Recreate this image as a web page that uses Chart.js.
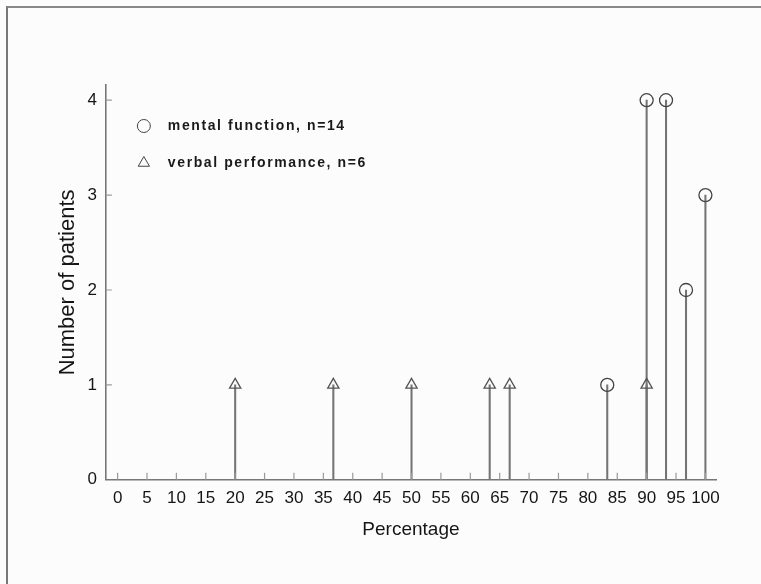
<!DOCTYPE html>
<html>
<head>
<meta charset="utf-8">
<script src="https://cdn.jsdelivr.net/npm/chart.js@4/dist/chart.umd.min.js"></script>
<style>
body { margin: 0; background: #fcfcfc; }
#frame { position: absolute; left: 6px; top: 6px; width: 800px; height: 640px; border-left: 2px solid #777; border-top: 2px solid #888; }
#graph { position: absolute; left: 0; top: 0; }
</style>
</head>
<body>
<div id="frame"></div>
<canvas id="graph" width="761" height="584"></canvas>
<script>
// donnees
var mentalX = [83.3, 90, 93.3, 96.7, 100]; // pourcentage
var mentalY = [1, 4, 4, 2, 3]; // nombre de patients
var verbalX = [20, 36.7, 50, 63.3, 66.7, 90];
var verbalY = [1, 1, 1, 1, 1, 1];
var xTicks = [0, 5, 10, 15, 20, 25, 30, 35, 40, 45, 50, 55, 60, 65, 70, 75, 80, 85, 90, 95, 100];
var yTicks = [0, 1, 2, 3, 4];
var mentalLabel = 'mental function, n=14';
var verbalLabel = 'verbal performance, n=6';

var toPoints = function(xs, ys) {
    return xs.map(function(x, i) { return { x: x, y: ys[i] }; });
};

// petits traits vers l'interieur sur les axes
var innerTicks = {
    id: 'innerTicks',
    afterDatasetsDraw: function(chart) {
        var ctx = chart.ctx;
        var xs = chart.scales.x, ys = chart.scales.y;
        ctx.save();
        ctx.strokeStyle = '#9a9a9a';
        ctx.lineWidth = 1.2;
        ctx.beginPath();
        xTicks.forEach(function(v) {
            var px = xs.getPixelForValue(v);
            ctx.moveTo(px, ys.bottom);
            ctx.lineTo(px, ys.bottom - 7);
        });
        yTicks.forEach(function(v) {
            if (v == 0) return;
            var py = ys.getPixelForValue(v);
            ctx.moveTo(xs.left, py);
            ctx.lineTo(xs.left + 6, py);
        });
        ctx.stroke();
        ctx.restore();
    }
};

// legende dans la zone du graphe
var innerLegend = {
    id: 'innerLegend',
    afterDraw: function(chart) {
        var ctx = chart.ctx;
        var a = chart.chartArea;
        var items = [chart.data.datasets[0], chart.data.datasets[1]];
        ctx.save();
        ctx.font = 'bold 14px "Liberation Sans", Arial, sans-serif';
        ctx.letterSpacing = '1.6px';
        ctx.textBaseline = 'middle';
        items.forEach(function(ds, i) {
            var y = a.top + 41 + i * 37;
            var x = a.left + 38;
            ctx.strokeStyle = '#444';
            ctx.fillStyle = 'rgba(0,0,0,0)';
            Chart.helpers.drawPoint(ctx, {
                pointStyle: ds.pointStyle,
                radius: 6.5,
                borderWidth: 1.3
            }, x, y);
            ctx.fillStyle = '#1a1a1a';
            ctx.fillText(ds.label, x + 24, y);
        });
        ctx.restore();
    }
};

var config = {
    type: 'scatter',
    data: {
        datasets: [{
            label: mentalLabel,
            data: toPoints(mentalX, mentalY),
            pointStyle: 'circle',
            pointRadius: 6.5,
            pointBorderWidth: 1.3,
            borderColor: '#444',
            backgroundColor: 'rgba(0,0,0,0)',
            order: 0
        }, {
            label: verbalLabel,
            data: toPoints(verbalX, verbalY),
            pointStyle: 'triangle',
            pointRadius: 6.5,
            pointBorderWidth: 1.3,
            borderColor: '#555',
            backgroundColor: 'rgba(0,0,0,0)',
            order: 0
        }, {
            type: 'bar',
            label: 'stems mental',
            data: toPoints(mentalX, mentalY),
            backgroundColor: '#747474',
            barThickness: 1.4,
            grouped: false,
            order: 1
        }, {
            type: 'bar',
            label: 'stems verbal',
            data: toPoints(verbalX, verbalY),
            backgroundColor: '#747474',
            barThickness: 1.4,
            grouped: false,
            order: 1
        }]
    },
    options: {
        responsive: false,
        animation: false,
        layout: { padding: { left: 55, top: 85, right: 45, bottom: 39 } },
        plugins: {
            legend: { display: false },
            tooltip: { enabled: false }
        },
        scales: {
            x: {
                type: 'linear',
                offset: false,
                min: -2,
                max: 101.8,
                afterBuildTicks: function(scale) { scale.ticks = xTicks.map(function(v) { return { value: v }; }); },
                grid: { drawOnChartArea: false, drawTicks: false },
                border: { color: '#777', width: 1.6 },
                ticks: {
                    padding: 8,
                    maxRotation: 0,
                    autoSkip: false,
                    color: '#151515',
                    font: { family: '"Liberation Sans", Arial, sans-serif', size: 17 }
                },
                title: {
                    display: true,
                    text: 'Percentage',
                    color: '#151515',
                    padding: { top: 2, bottom: 4 },
                    font: { family: '"Liberation Sans", Arial, sans-serif', size: 19 }
                }
            },
            y: {
                min: 0,
                max: 4.16,
                afterBuildTicks: function(scale) { scale.ticks = yTicks.map(function(v) { return { value: v }; }); },
                grid: { drawOnChartArea: false, drawTicks: false },
                border: { color: '#777', width: 1.6 },
                ticks: {
                    padding: 9,
                    color: '#151515',
                    font: { family: '"Liberation Sans", Arial, sans-serif', size: 17 }
                },
                title: {
                    display: true,
                    text: 'Number of patients',
                    color: '#151515',
                    padding: { top: 0, bottom: -3 },
                    font: { family: '"Liberation Sans", Arial, sans-serif', size: 22 }
                }
            }
        }
    },
    plugins: [innerTicks, innerLegend]
};

window.onload = function() {
    var ctx = document.getElementById("graph").getContext("2d");
    window.myChart = new Chart(ctx, config);
};
</script>
</body>
</html>
